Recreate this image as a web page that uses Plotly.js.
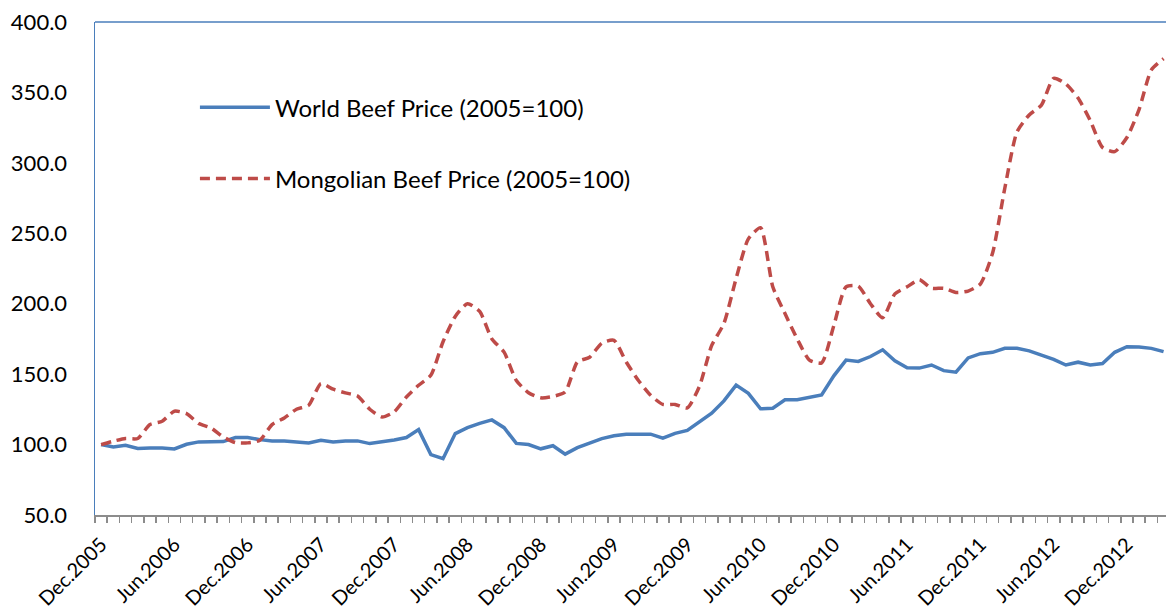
<!DOCTYPE html>
<html>
<head>
<meta charset="utf-8">
<script src="https://cdn.plot.ly/plotly-3.0.1.min.js"></script>
<style>
  body { margin: 0; background: #fff; }
  #beefPlot { width: 1166px; height: 616px; }
</style>
</head>
<body>
<div id="beefPlot"></div>
<script>
// monthly series, Dec.2005 .. Mar.2013 (88 months)
let monthAbbr = ['Jan', 'Feb', 'Mar', 'Apr', 'May', 'Jun', 'Jul', 'Aug', 'Sep', 'Oct', 'Nov', 'Dec'];
let startYear = 2005, startMonth = 11, monthCount = 88;

// World Beef Price (2005=100)
let worldPrice = [
    100, 98.3, 99.5, 97.2, 97.6, 97.6, 96.9, 100.2, 101.9, 101.9, 102.1, 105.0,
    105.0, 103.5, 102.6, 102.6, 101.9, 101.2, 103.1, 101.9, 102.6, 102.6, 100.7, 101.9,
    103.3, 105.0, 110.6, 92.9, 90.0, 107.8, 112.0, 115.0, 117.5, 112.0, 100.8, 100.0,
    97.0, 99.2, 93.2, 97.8, 100.8, 104.2, 106.2, 107.3, 107.3, 107.4, 104.5, 108.0,
    110.0, 115.8, 122.3, 131.0, 142.2, 136.4, 125.4, 125.8, 131.8, 131.8, 133.5, 135.2,
    148.8, 160.0, 159.0, 162.5, 167.3, 159.5, 154.5, 154.3, 156.5, 152.5, 151.4, 161.5,
    164.5, 165.5, 168.3, 168.3, 166.5, 163.5, 160.5, 156.5, 158.5, 156.5, 157.5, 165.5,
    169.5, 169.3, 168.3, 166.0
];

// Mongolian Beef Price (2005=100)
let mongolianPrice = [
    100, 102.4, 104.3, 104.3, 114.2, 116.6, 123.7, 122.0, 114.9, 111.8, 105.4, 101.4,
    101.2, 103.1, 114.2, 118.9, 125.1, 127.9, 143.3, 139.3, 136.7, 134.5, 125.1, 119.6,
    123.2, 133.8, 142.1, 149.2, 173.0, 191.0, 200.0, 194.5, 175.0, 165.6, 145.5, 136.8,
    133.2, 134.2, 137.3, 158.6, 162.0, 172.0, 174.0, 158.6, 145.5, 135.0, 128.5, 128.5,
    126.0, 141.5, 170.4, 186.0, 218.0, 246.0, 254.0, 212.0, 193.0, 175.0, 160.0, 158.0,
    184.5, 212.0, 212.5, 200.0, 190.0, 207.0, 212.0, 217.0, 211.0, 211.0, 208.0, 209.0,
    214.0, 236.0, 282.0, 322.0, 334.0, 341.0, 360.0, 356.0, 346.0, 330.0, 311.0, 308.0,
    318.0, 338.0, 366.0, 374.0
];

// build month labels and index
let monthLabels = [];
let monthIdx = [];
for (let i = 0; i < monthCount; i++) {
    let m = (startMonth + i) % 12;
    let y = startYear + Math.floor((startMonth + i) / 12);
    monthLabels.push(monthAbbr[m] + '.' + y);
    monthIdx.push(i);
}

// label every 6 months
let tickIdx = monthIdx.filter(i => i % 6 === 0 && i <= 84);
let tickLabels = tickIdx.map(i => monthLabels[i]);

let yTicks = [50, 100, 150, 200, 250, 300, 350, 400];

let fontName = 'Lato, "Open Sans", sans-serif';

let traceWorld = {
    x: monthIdx,
    y: worldPrice,
    text: monthLabels,
    mode: 'lines',
    name: 'World Beef Price (2005=100)',
    legendgroup: 'a',
    line: { color: '#4a7ebb', width: 3.5 },
    hovertemplate: '%{text}: %{y:.1f}<extra></extra>'
};

let traceMongolia = {
    x: monthIdx,
    y: mongolianPrice,
    text: monthLabels,
    mode: 'lines',
    name: 'Mongolian Beef Price (2005=100)',
    legendgroup: 'b',
    line: { color: '#be4b48', width: 3.5, dash: '10px,6px', shape: 'spline', smoothing: 0.6 },
    hovertemplate: '%{text}: %{y:.1f}<extra></extra>'
};

let layout = {
    width: 1166,
    height: 616,
    margin: { l: 95, r: 0, t: 22, b: 101 },
    paper_bgcolor: '#fff',
    plot_bgcolor: '#fff',
    font: { family: fontName, size: 21, color: '#000' },
    showlegend: true,
    legend: {
        x: 0.0933, y: 0.872, xanchor: 'left', yanchor: 'top',
        bgcolor: 'rgba(0,0,0,0)',
        font: { family: fontName, size: 24, color: '#000' },
        itemwidth: 70,
        tracegroupgap: 37
    },
    xaxis: {
        type: 'linear',
        range: [-0.5, 87.2],
        tickmode: 'array',
        tickvals: tickIdx,
        ticktext: tickLabels,
        tickangle: -45,
        ticks: 'outside',
        ticklen: 8,
        tickcolor: 'rgba(0,0,0,0)',
        minor: { tick0: -0.5, dtick: 1, ticks: 'outside', ticklen: 6, tickwidth: 1.5, tickcolor: '#8c8c8c', showgrid: false },
        showgrid: false,
        zeroline: false,
        showline: true,
        linecolor: '#8c8c8c',
        linewidth: 2,
        tickfont: { family: fontName, size: 20, color: '#000' }
    },
    yaxis: {
        range: [50, 400],
        tickmode: 'array',
        tickvals: yTicks,
        ticktext: yTicks.map(v => v.toFixed(1)),
        ticks: '',
        ticklabelstandoff: 22,
        showgrid: false,
        zeroline: false,
        showline: true,
        linecolor: '#4a7ebb',
        linewidth: 1.5,
        tickfont: { family: fontName, size: 22, color: '#000' }
    },
    shapes: [
        // top border of the plot area
        { type: 'line', xref: 'paper', yref: 'paper', x0: 0, x1: 1, y0: 1, y1: 1, line: { color: '#4a7ebb', width: 1.5 } }
    ]
};

Plotly.newPlot('beefPlot', [traceWorld, traceMongolia], layout, { displayModeBar: false, staticPlot: true });
</script>
</body>
</html>
